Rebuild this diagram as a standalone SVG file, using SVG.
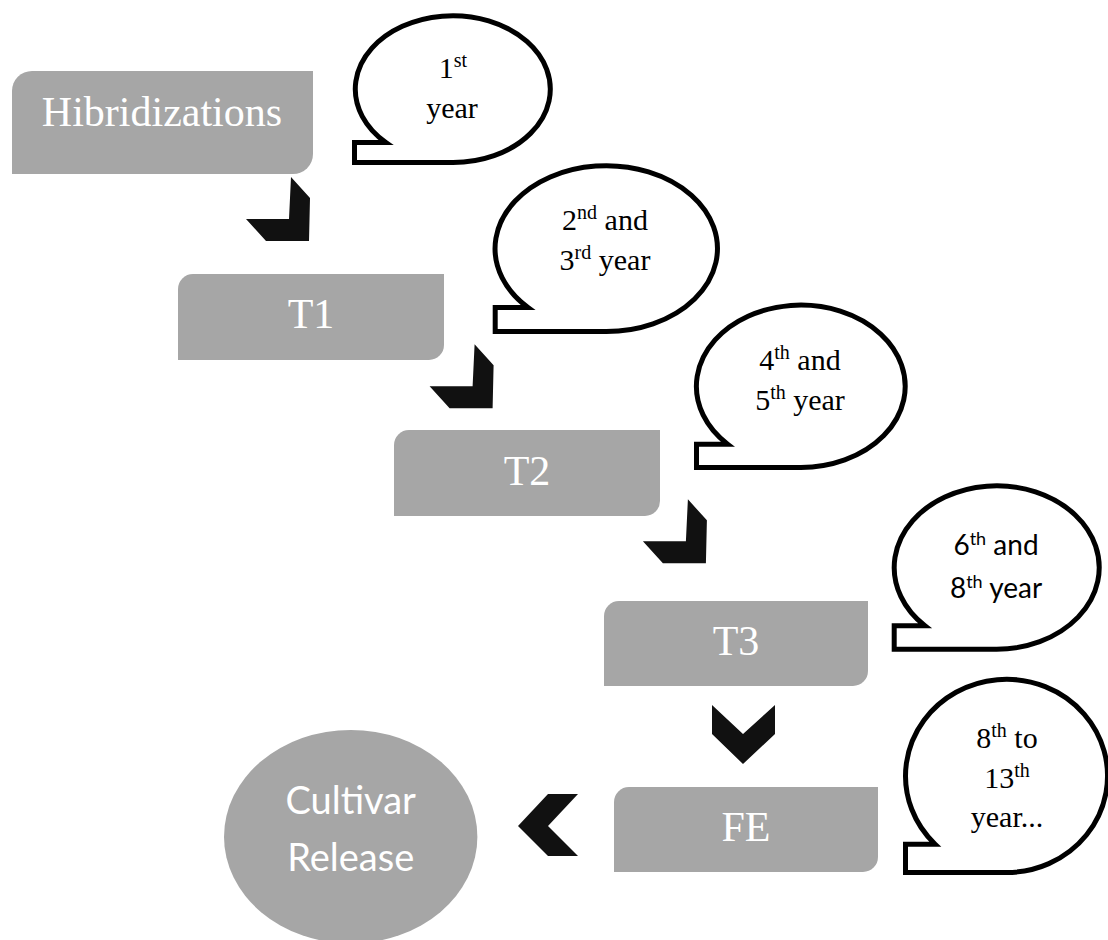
<svg xmlns="http://www.w3.org/2000/svg" width="1108" height="940" viewBox="0 0 1108 940">
<defs>
<style>
.box{fill:#A6A6A6;}
.boxtxt{font-family:"Liberation Serif","Times New Roman",serif;font-size:42px;fill:#FFFFFF;text-anchor:middle;}
.bubble{fill:#FFFFFF;stroke:#000000;stroke-width:5;stroke-linejoin:miter;}
.btxt{font-family:"Liberation Serif","Times New Roman",serif;font-size:30px;fill:#000000;text-anchor:middle;}
.bsans{font-family:Lato,"Open Sans",sans-serif;font-size:28px;fill:#000000;text-anchor:middle;}
.chev{fill:#111111;}
.ctxt{font-family:Lato,"Open Sans",sans-serif;font-size:38px;fill:#FFFFFF;text-anchor:middle;}
</style>
<polygon id="chevDR" points="0,0 19,21 18,64 -25,64 -45,42 -2,42"/>
</defs>
<rect width="1108" height="940" fill="#FFFFFF"/>

<g id="connectors">
<use href="#chevDR" class="chev" x="291" y="177"/>
<use href="#chevDR" class="chev" x="474.6" y="344.3"/>
<use href="#chevDR" class="chev" x="687.9" y="499.3"/>
<polygon class="chev" points="712,705 743,734 775,705 775,734 743,764 712,734"/>
<polygon class="chev" points="518,826 548,794 578,794 548,826 578,856 548,856"/>
</g>

<g id="node-hibridizations">
<path class="box" d="M12,91 A20,20 0 0 1 32,71 H313 V154 A20,20 0 0 1 293,174 H12 Z"/>
<text class="boxtxt" x="162" y="126">Hibridizations</text>
</g>

<g id="node-t1">
<path class="box" d="M178,289 A15,15 0 0 1 193,274 H444 V345 A15,15 0 0 1 429,360 H178 Z"/>
<text class="boxtxt" x="311" y="328">T1</text>
</g>

<g id="node-t2">
<path class="box" d="M394,445 A15,15 0 0 1 409,430 H660 V501 A15,15 0 0 1 645,516 H394 Z"/>
<text class="boxtxt" x="527" y="485">T2</text>
</g>

<g id="node-t3">
<path class="box" d="M604,616 A15,15 0 0 1 619,601 H868 V671 A15,15 0 0 1 853,686 H604 Z"/>
<text class="boxtxt" x="736" y="655">T3</text>
</g>

<g id="node-fe">
<path class="box" d="M614,802 A15,15 0 0 1 629,787 H878 V857 A15,15 0 0 1 863,872 H614 Z"/>
<text class="boxtxt" x="746" y="841">FE</text>
</g>

<g id="node-cultivar">
<ellipse class="box" cx="350.7" cy="836.7" rx="126.7" ry="106.7"/>
<text class="ctxt" x="350.7" y="814">Cultivar</text>
<text class="ctxt" x="350.7" y="871">Release</text>
</g>

<g id="callout-1">
<path class="bubble" d="M453,162.5 A97.5,73.4 0 1 0 385.9,142.5 H354.5 V162.5 Z"/>
<text class="btxt" x="453" y="78">1<tspan font-size="20" dy="-11">st</tspan></text>
<text class="btxt" x="452" y="118">year</text>
</g>

<g id="callout-2">
<path class="bubble" d="M606.4,331.5 A111.2,82.9 0 1 0 528,307.5 H495.2 V331.5 Z"/>
<text class="btxt" x="605" y="230">2<tspan font-size="20" dy="-11">nd</tspan><tspan dy="11"> and</tspan></text>
<text class="btxt" x="605" y="270">3<tspan font-size="20" dy="-11">rd</tspan><tspan dy="11"> year</tspan></text>
</g>

<g id="callout-3">
<path class="bubble" d="M800.9,467.5 A104.4,81.2 0 1 0 727.6,444.2 H696.5 V467.5 Z"/>
<text class="btxt" x="800" y="370">4<tspan font-size="20" dy="-11">th</tspan><tspan dy="11"> and</tspan></text>
<text class="btxt" x="800" y="410">5<tspan font-size="20" dy="-11">th</tspan><tspan dy="11"> year</tspan></text>
</g>

<g id="callout-4">
<path class="bubble" d="M996.7,649.2 A102.5,81.7 0 1 0 924.9,625.8 H894.2 V649.2 Z"/>
<text class="bsans" x="996" y="555">6<tspan font-size="18" dy="-10">th</tspan><tspan dy="10"> and</tspan></text>
<text class="bsans" x="996" y="598">8<tspan font-size="18" dy="-10">th</tspan><tspan dy="10"> year</tspan></text>
</g>

<g id="callout-5">
<path class="bubble" d="M1006.5,872.5 A101,96.6 0 1 0 935.1,844.2 H905.5 V872.5 Z"/>
<text class="btxt" x="1007" y="748">8<tspan font-size="20" dy="-11">th</tspan><tspan dy="11"> to</tspan></text>
<text class="btxt" x="1007" y="788">13<tspan font-size="20" dy="-11">th</tspan></text>
<text class="btxt" x="1007" y="827">year...</text>
</g>
</svg>
